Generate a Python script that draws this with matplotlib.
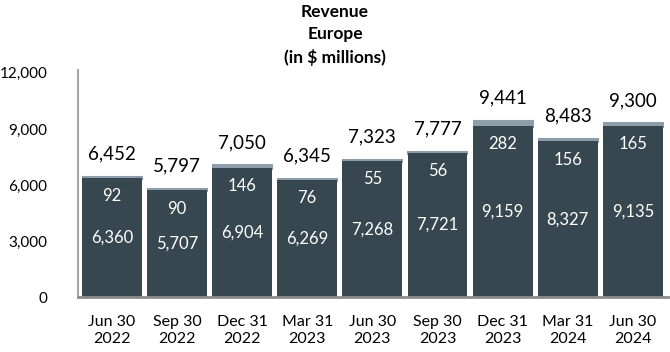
import matplotlib
matplotlib.use('Agg')
import matplotlib.pyplot as plt
import numpy as np

quarters = ['Jun 30\n2022', 'Sep 30\n2022', 'Dec 31\n2022', 'Mar 31\n2023', 'Jun 30\n2023',
            'Sep 30\n2023', 'Dec 31\n2023', 'Mar 31\n2024', 'Jun 30\n2024']
base = [6360, 5707, 6904, 6269, 7268, 7721, 9159, 8327, 9135]
extra = [92, 90, 146, 76, 55, 56, 282, 156, 165]
totals = [6452, 5797, 7050, 6345, 7323, 7777, 9441, 8483, 9300]
yticks = [0, 3000, 6000, 9000, 12000]

dark = '#36474F'
light = '#8D9DAA'

plt.rcParams['font.family'] = ['Lato', 'DejaVu Sans']

fig = plt.figure(figsize=(6.7, 3.52), dpi=100)
ax = fig.add_axes([0.1164, 0.156, 0.8806, 0.645])

x = np.arange(len(quarters))
w = 0.92
ax.bar(x, base, width=w, color=dark, zorder=2)
# light top segment, thickened a bit with an edge of the same colour
ax.bar(x, extra, bottom=base, width=w - 0.03, color=light, edgecolor=light, linewidth=2.2, zorder=1)

for i in range(len(x)):
    ax.text(x[i], base[i] / 2, f'{base[i]:,}', ha='center', va='center', color='white', fontsize=12)
    ax.annotate(f'{extra[i]}', (x[i], base[i]), xytext=(0, -13), textcoords='offset points',
                ha='center', va='center', color='white', fontsize=12)
    ax.annotate(f'{totals[i]:,}', (x[i], totals[i]), xytext=(0, 16.5), textcoords='offset points',
                ha='center', va='center', color='black', fontsize=13.5)

ax.set_xlim(-0.52, 8.54)
ax.set_ylim(0, 12150)
ax.set_yticks(yticks)
ax.set_yticklabels([f'{v:,}' for v in yticks], fontsize=11)
ax.set_xticks(x)
ax.set_xticklabels(quarters, fontsize=11.5, linespacing=1.25)
ax.tick_params(axis='y', length=0, pad=22)
ax.tick_params(axis='x', length=0, pad=13)

for s in ['top', 'right']:
    ax.spines[s].set_visible(False)
ax.spines['left'].set_color('#A6A6A6')
ax.spines['left'].set_linewidth(1.5)
ax.spines['bottom'].set_color('#8C8C8C')
ax.spines['bottom'].set_linewidth(2)

fig.text(0.5, 0.99, 'Revenue\nEurope\n(in $ millions)', ha='center', va='top',
         fontsize=12.5, fontweight='bold', linespacing=1.5)

fig.savefig('out.png', dpi=100)
